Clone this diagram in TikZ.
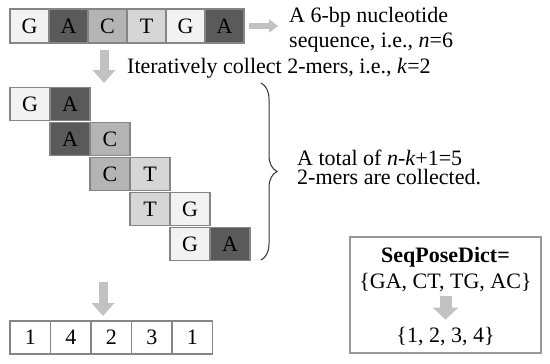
\documentclass[tikz,border=0pt]{standalone}
\usepackage{fontspec}
\setmainfont{Liberation Serif}
\usetikzlibrary{arrows.meta,positioning,calc,decorations.pathreplacing}

\definecolor{baseG}{HTML}{F2F2F2}
\definecolor{baseA}{HTML}{5A5A5A}
\definecolor{baseC}{HTML}{B4B4B4}
\definecolor{baseT}{HTML}{D6D6D6}
\definecolor{cellline}{HTML}{858585}
\definecolor{arrowgray}{HTML}{C2C2C2}

\tikzset{
  cell/.style={draw=cellline, line width=1.2pt, minimum width=39pt, minimum height=34pt,
    inner sep=0pt, outer sep=0pt},
  fatarrow/.style={line width=9pt, draw=arrowgray, -{Triangle[length=13pt,width=22pt]}},
  txt/.style={inner sep=0pt, align=left},
}

\begin{document}
\begin{tikzpicture}[x=1pt, y=-1pt, font=\fontsize{22}{26}\selectfont]
    \useasboundingbox (0,0) rectangle (550,364);

    % Sequence
    \foreach \b [count=\i] in {G,A,C,T,G,A} {
        \node[cell, fill=base\b] (s\i) at ({29.5+39*(\i-1)}, 26) {\b};
    }
    \node[txt, anchor=base west] (seqtext) at (289,48) {A 6-bp nucleotide\\sequence, i.e., \textit{n}=6};
    \draw[fatarrow, line width=6pt, -{Triangle[length=9pt,width=13pt]}, shorten <=5pt, shorten >=11pt]
        (s6.east) -- (s6.east -| seqtext.west);

    % Collecting 2-mers
    \coordinate (down1) at (104,50);
    \draw[fatarrow, shorten >=5pt] (down1) -- (down1 |- 0,88);
    \node[txt, anchor=base west] (itertext) at (127,73) {Iteratively collect 2-mers, i.e., \textit{k}=2};

    \foreach \l/\r [count=\k] in {G/A, A/C, C/T, T/G, G/A} {
        \node[cell, minimum width=40pt, minimum height=33pt, fill=base\l] (l\k) at ({30+40*(\k-1)}, {104+35*(\k-1)}) {\l};
        \node[cell, minimum width=40pt, minimum height=33pt, fill=base\r, right=0pt of l\k] (r\k) {\r};
    }

    % Brace and count
    \draw[decorate, decoration={brace, amplitude=16pt}, line width=1pt, draw=black!80] (261,83) -- (261,260);
    \node[txt, anchor=base west, font=\fontsize{22}{19}\selectfont] (totaltext) at (297,184)
        {A total of \textit{n}-\textit{k}+1=5\\2-mers are collected.};

    % Positions
    \coordinate (down2) at (103,282);
    \foreach \v [count=\i] in {1,4,2,3,1} {
        \node[cell, fill=white, minimum width=40.5pt, minimum height=33pt] (p\i) at ({30.25+40.5*(\i-1)}, 337.5) {\v};
    }
    \draw[fatarrow, shorten >=5pt] (down2) -- (down2 |- p3.north);

    % Dictionary
    \node[draw=black!40, line width=1.2pt, minimum width=191pt, minimum height=116pt, inner sep=0pt] (dictbox) at (445.5,295) {};
    \node[txt, anchor=base, font=\fontsize{22}{26}\selectfont\bfseries] (dictname) at (445.5,262) {SeqPoseDict=};
    \node[txt, anchor=base] (kmerset) at (445.5,288) {\{GA, CT, TG, AC\}};
    \node[txt, anchor=base] (idxset) at (445.5,342) {\{1, 2, 3, 4\}};
    \draw[fatarrow, line width=12pt, -{Triangle[length=12pt,width=25pt]}, shorten <=4pt, shorten >=7pt]
        (kmerset.south) -- (idxset.north);
\end{tikzpicture}
\end{document}
